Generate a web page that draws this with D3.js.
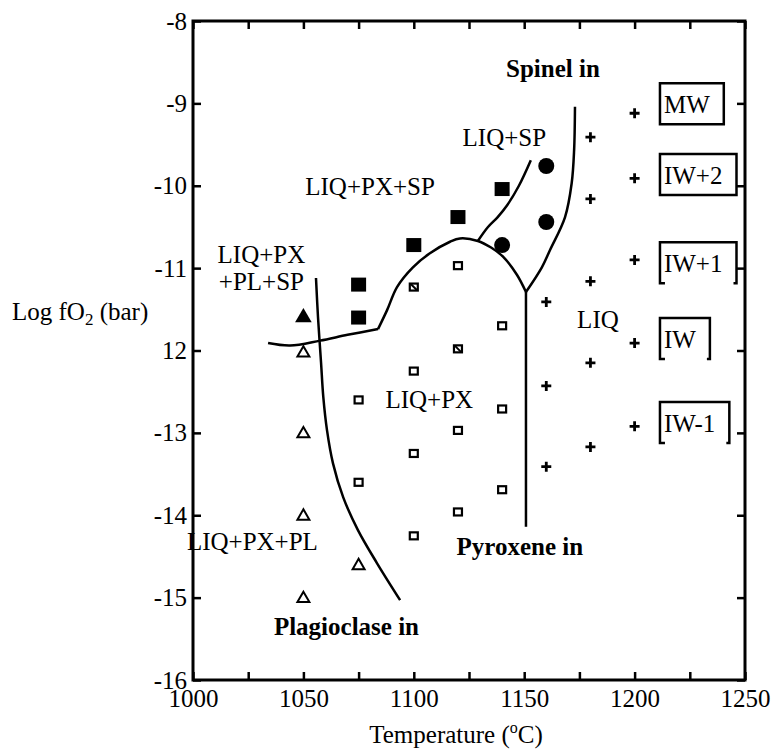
<!DOCTYPE html>
<html>
<head>
<meta charset="utf-8">
<script src="https://cdn.jsdelivr.net/npm/d3@7"></script>
<style>
  body { margin: 0; background: #fff; }
</style>
</head>
<body>
<div id="phase-chart"></div>
<script>
// phase diagram: Log fO2 vs temperature

const FONT = "'Liberation Serif', 'Times New Roman', Times, serif";

// tick labels (the -12 label really reads "12" in the figure)
const xTickValues = [1000, 1050, 1100, 1150, 1200, 1250];
const xMinorTicks = [1000, 1025, 1050, 1075, 1100, 1125, 1150, 1175, 1200, 1225, 1250];
const yTickValues = [-8, -9, -10, -11, -12, -13, -14, -15, -16];
const yTickLabels = ["-8", "-9", "-10", "-11", "12", "-13", "-14", "-15", "-16"];

// experiments  [T, logfO2]
const liqPxSp = [[1075, -11.2], [1075, -11.6], [1100, -10.72], [1120, -10.38], [1140, -10.04]];
const liqSp = [[1160, -9.76], [1160, -10.44], [1140, -10.72]];
const liqPxPlSp = [[1050, -11.6]];
const liqPxPl = [[1050, -12.02], [1050, -13.0], [1050, -14.0], [1050, -15.0], [1075, -14.6]];
const liqPx = [[1075, -12.6], [1075, -13.6], [1100, -12.25], [1100, -13.25], [1100, -14.25],
  [1120, -10.97], [1120, -12.97], [1120, -13.96], [1140, -11.7], [1140, -12.71], [1140, -13.69]];
const liqPxHatched = [[1100, -11.23], [1120, -11.98]];
const liq = [[1160, -11.41], [1160, -12.43], [1160, -13.41],
  [1180, -9.41], [1180, -10.16], [1180, -11.16], [1180, -12.15], [1180, -13.17],
  [1200, -9.12], [1200, -9.91], [1200, -10.9], [1200, -11.91], [1200, -12.92]];

// phase boundaries
const spinelIn = [[1173, -9.04], [1172.6, -9.57], [1171.5, -9.97], [1168.5, -10.38], [1161.7, -10.78], [1158, -10.99], [1150.8, -11.29]];
const pxSpDome = [[1083.8, -11.74], [1087.9, -11.51], [1092.4, -11.23], [1099.6, -10.99], [1107.3, -10.82], [1116.4, -10.68],
  [1120.9, -10.64], [1129, -10.67], [1135, -10.75], [1140.4, -10.86], [1146.7, -11.08], [1150.8, -11.29]];
const spBranch = [[1129, -10.67], [1133.6, -10.5], [1138, -10.38], [1142.2, -10.24], [1147.6, -10.0], [1153, -9.69]];
const plSpFloor = [[1034, -11.91], [1044, -11.94], [1057.5, -11.88], [1070, -11.81], [1083.8, -11.74]];
const plagioclaseIn = [[1055.7, -11.12], [1056.6, -11.59], [1058, -12.15], [1059, -12.56], [1060.7, -12.97], [1063.4, -13.37],
  [1068, -13.78], [1074.7, -14.18], [1083.3, -14.58], [1093.8, -15.03]];
const pyroxeneIn = [[1150.8, -11.29], [1150.8, -14.14]];

// region labels [text, T, logfO2, bold]
const regionLabels = [
  ["Spinel in", 1163, -8.68, true],
  ["LIQ+SP", 1141, -9.52, false],
  ["LIQ+PX+SP", 1080.2, -10.11, false],
  ["LIQ+PX", 1031, -10.94, false],
  ["+PL+SP", 1031, -11.27, false],
  ["LIQ", 1183.4, -11.73, false],
  ["LIQ+PX", 1107, -12.7, false],
  ["LIQ+PX+PL", 1026.9, -14.42, false],
  ["Pyroxene in", 1148, -14.48, true],
  ["Plagioclase in", 1069.5, -15.45, true]
];

// oxygen buffers on the right
const bufferNames = ["MW", "IW+2", "IW+1", "IW", "IW-1"];
const bufferLevels = [-9.12, -9.98, -11.05, -11.97, -12.99];
const bufferFrame = ["box", "box", "bracket", "bracket", "bracket"];


class PhaseVis {
  constructor(parentElement) {
    this.parentElement = parentElement;
    this.initVis();
  }

  initVis() {
    let vis = this;

    vis.margin = { top: 21, right: 26, bottom: 73, left: 193 };
    vis.width = 771 - vis.margin.left - vis.margin.right;
    vis.height = 753 - vis.margin.top - vis.margin.bottom;

    vis.root = d3.select("#" + vis.parentElement).append("svg")
      .attr("width", 771)
      .attr("height", 753)
      .style("font-family", FONT);

    vis.svg = vis.root.append("g")
      .attr("transform", `translate(${vis.margin.left},${vis.margin.top})`);

    vis.x = d3.scaleLinear().domain([1000, 1250]).range([0, vis.width]);
    vis.y = d3.scaleLinear().domain([-16, -8]).range([vis.height, 0]);

    // axes, ticks pointing inward
    vis.svg.append("g")
      .attr("class", "axis")
      .attr("transform", `translate(0,${vis.height})`)
      .call(d3.axisBottom(vis.x).tickValues(xMinorTicks).tickSize(-8).tickPadding(9)
        .tickFormat(d => xTickValues.includes(d) ? d : ""));

    vis.svg.append("g")
      .attr("class", "axis")
      .call(d3.axisTop(vis.x).tickValues(xMinorTicks).tickSize(-8).tickFormat(""));

    vis.svg.append("g")
      .attr("class", "axis")
      .call(d3.axisLeft(vis.y).tickValues(yTickValues).tickSize(-8).tickPadding(6)
        .tickFormat((d, i) => yTickLabels[i]));

    vis.svg.append("g")
      .attr("class", "axis")
      .attr("transform", `translate(${vis.width},0)`)
      .call(d3.axisRight(vis.y).tickValues(yTickValues).tickSize(-8).tickFormat(""));

    vis.svg.selectAll(".axis").attr("font-family", null).attr("font-size", null);
    vis.svg.selectAll(".axis .domain").remove();
    vis.svg.selectAll(".axis .tick line").attr("stroke", "#000").attr("stroke-width", 2.5);
    vis.svg.selectAll(".axis .tick text")
      .style("font-family", FONT)
      .style("font-size", "25px")
      .attr("fill", "#000");

    vis.svg.append("rect")
      .attr("width", vis.width)
      .attr("height", vis.height)
      .attr("fill", "none")
      .attr("stroke", "#000")
      .attr("stroke-width", 3);

    // axis titles
    let xt = vis.root.append("text")
      .attr("x", 456)
      .attr("y", 743)
      .attr("text-anchor", "middle")
      .style("font-family", FONT)
      .style("font-size", "25px");
    xt.append("tspan").text("Temperature (");
    xt.append("tspan").text("o").style("font-size", "16px").attr("dy", -10);
    xt.append("tspan").text("C)").attr("dy", 10);

    let yt = vis.root.append("text")
      .attr("x", 12)
      .attr("y", 320)
      .style("font-family", FONT)
      .style("font-size", "25px");
    yt.append("tspan").text("Log fO");
    yt.append("tspan").text("2").style("font-size", "17px").attr("dy", 5);
    yt.append("tspan").text(" (bar)").attr("dy", -5);

    vis.updateVis();
  }

  updateVis() {
    let vis = this;
    let px = d => vis.x(d[0]);
    let py = d => vis.y(d[1]);

    // boundary curves
    let line = d3.line().x(px).y(py).curve(d3.curveCatmullRom.alpha(0.5));
    [spinelIn, pxSpDome, spBranch, plSpFloor, plagioclaseIn, pyroxeneIn].forEach(b => {
      vis.svg.append("path")
        .datum(b)
        .attr("d", line)
        .attr("fill", "none")
        .attr("stroke", "#000")
        .attr("stroke-width", 2.5);
    });

    // filled squares
    vis.svg.selectAll(".sq-filled")
      .data(liqPxSp)
      .enter().append("rect")
      .attr("class", "sq-filled")
      .attr("x", d => px(d) - 7.5)
      .attr("y", d => py(d) - 7)
      .attr("width", 15)
      .attr("height", 14)
      .attr("fill", "#000");

    // filled circles
    vis.svg.selectAll(".circ")
      .data(liqSp)
      .enter().append("circle")
      .attr("class", "circ")
      .attr("cx", px)
      .attr("cy", py)
      .attr("r", 8)
      .attr("fill", "#000");

    // triangles
    let triBig = d3.symbol().type(d3.symbolTriangle).size(120);
    let triSmall = d3.symbol().type(d3.symbolTriangle).size(62);

    vis.svg.selectAll(".tri-filled")
      .data(liqPxPlSp)
      .enter().append("path")
      .attr("class", "tri-filled")
      .attr("d", triBig)
      .attr("transform", d => `translate(${px(d)},${py(d)})`)
      .attr("fill", "#000");

    vis.svg.selectAll(".tri-open")
      .data(liqPxPl)
      .enter().append("path")
      .attr("class", "tri-open")
      .attr("d", triSmall)
      .attr("transform", d => `translate(${px(d)},${py(d) + 1})`)
      .attr("fill", "#fff")
      .attr("stroke", "#000")
      .attr("stroke-width", 2);

    // open squares
    vis.svg.selectAll(".sq-open")
      .data(liqPx.concat(liqPxHatched))
      .enter().append("rect")
      .attr("class", "sq-open")
      .attr("x", d => px(d) - 4)
      .attr("y", d => py(d) - 3.5)
      .attr("width", 8)
      .attr("height", 7)
      .attr("fill", "#fff")
      .attr("stroke", "#000")
      .attr("stroke-width", 2.2);

    vis.svg.selectAll(".sq-hatch")
      .data(liqPxHatched)
      .enter().append("line")
      .attr("class", "sq-hatch")
      .attr("x1", d => px(d) - 3)
      .attr("y1", d => py(d) - 3)
      .attr("x2", d => px(d) + 3)
      .attr("y2", d => py(d) + 3)
      .attr("stroke", "#000")
      .attr("stroke-width", 2);

    // plus signs
    vis.svg.selectAll(".plus")
      .data(liq)
      .enter().append("path")
      .attr("class", "plus")
      .attr("d", "M-5,0H5M0,-5V5")
      .attr("transform", d => `translate(${px(d)},${py(d)})`)
      .attr("stroke", "#000")
      .attr("stroke-width", 2.8);

    // region labels
    vis.svg.selectAll(".region-label")
      .data(regionLabels)
      .enter().append("text")
      .attr("class", "region-label")
      .attr("x", d => vis.x(d[1]))
      .attr("y", d => vis.y(d[2]))
      .attr("text-anchor", "middle")
      .style("font-family", FONT)
      .style("font-size", "25px")
      .style("font-weight", d => d[3] ? "bold" : "normal")
      .text(d => d[0]);

    // buffer labels with frames
    let xb = vis.x(1213.3);
    bufferNames.forEach((name, i) => {
      let yb = vis.y(bufferLevels[i]);
      let t = vis.svg.append("text")
        .attr("x", xb)
        .attr("y", yb)
        .style("font-family", FONT)
        .style("font-size", "25px")
        .text(name);
      let w = t.node().getComputedTextLength();
      let x0 = xb - 4, x1 = xb + w + 14, y0 = yb - 30, y1 = yb + 11;
      let d = bufferFrame[i] === "box"
        ? `M${x0},${y0}H${x1}V${y1}H${x0}Z`
        : `M${x0 + 5},${y1}H${x0}V${y0}H${x1}V${y1}H${x1 - 3}`;
      vis.svg.append("path")
        .attr("d", d)
        .attr("fill", "none")
        .attr("stroke", "#000")
        .attr("stroke-width", 2.5);
    });
  }
}

new PhaseVis("phase-chart");
</script>
</body>
</html>
